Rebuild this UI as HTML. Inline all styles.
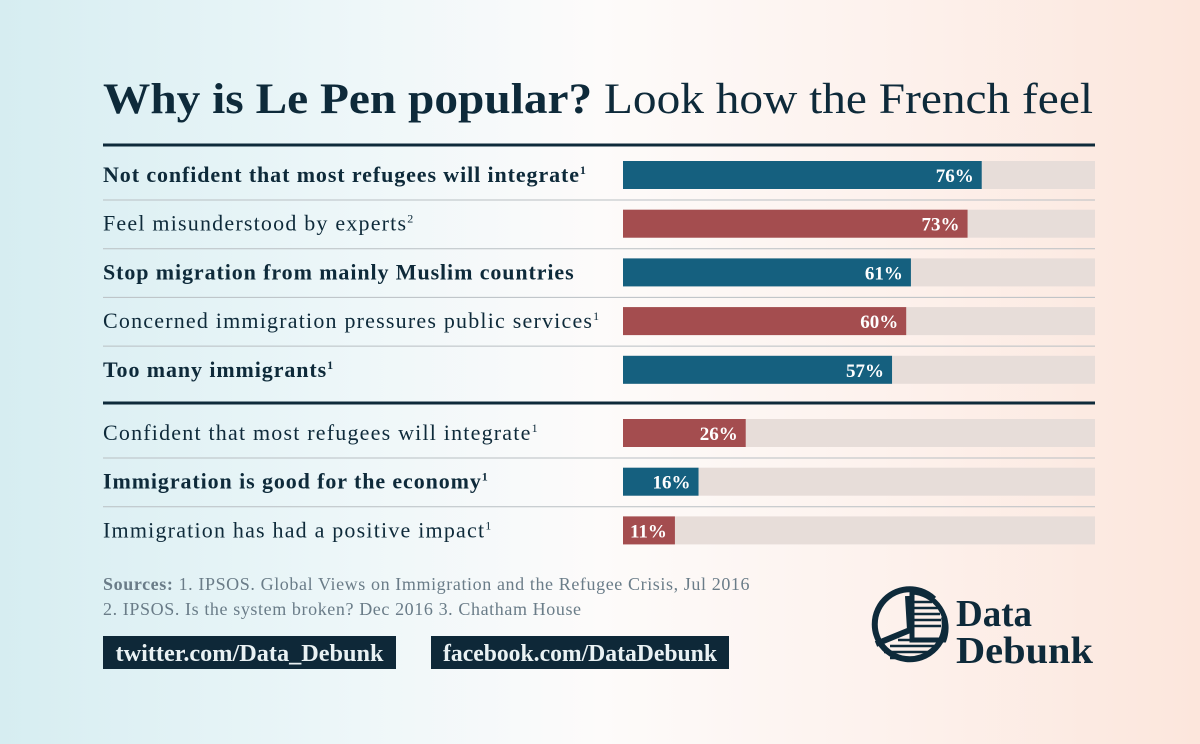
<!DOCTYPE html>
<html><head><meta charset="utf-8"><style>
html,body{margin:0;padding:0}
body{width:1200px;height:744px;overflow:hidden;background:linear-gradient(90deg,#d6edf1 0%,#eef7f9 30%,#fdfbfa 50%,#fdf1ec 75%,#fce6dc 100%);font-family:"Liberation Serif",serif}
svg{position:absolute;left:0;top:0}
</style></head><body>
<svg id="chart" width="1200" height="744">
<text x="103" y="113" font-size="43" fill="#0e2a3a" textLength="990" lengthAdjust="spacingAndGlyphs"><tspan font-weight="bold">Why is Le Pen popular?</tspan> Look how the French feel</text>
<line x1="103" x2="1095" y1="145" y2="145" stroke="#0e2a3a" stroke-width="3"/>
<line x1="103" x2="1095" y1="403" y2="403" stroke="#0e2a3a" stroke-width="3"/>
<g id="rows"></g>
<text x="103" y="590" font-size="18" letter-spacing="0.6" fill="#6a7c88"><tspan font-weight="bold">Sources:</tspan> 1. IPSOS. Global Views on Immigration and the Refugee Crisis, Jul 2016</text>
<text x="103" y="615" font-size="18" letter-spacing="0.6" fill="#6a7c88">2. IPSOS. Is the system broken? Dec 2016 3. Chatham House</text>
<g>
<rect x="103" y="636" width="293" height="33" fill="#0e2838"/>
<text x="249.5" y="661" font-size="24" font-weight="bold" fill="#e9f1f3" text-anchor="middle" textLength="268" lengthAdjust="spacingAndGlyphs">twitter.com/Data_Debunk</text></g>
<g>
<rect x="431" y="636" width="298" height="33" fill="#0e2838"/>
<text x="580" y="661" font-size="24" font-weight="bold" fill="#e9f1f3" text-anchor="middle" textLength="274" lengthAdjust="spacingAndGlyphs">facebook.com/DataDebunk</text></g>
<g fill="none" stroke="#0e2a3a" stroke-width="6">
<path d="M934 599 A35 35 0 1 0 944 617"/>
<path d="M908 596 L910 630 L876 644"/>
<path d="M912 592 A36 36 0 0 1 944 640 L 912 640 Z" stroke-width="5"/>
<g stroke-width="2.5"><line x1="914" x2="932" y1="602" y2="602"/><line x1="914" x2="938" y1="608" y2="608"/><line x1="914" x2="940" y1="614" y2="614"/><line x1="914" x2="941" y1="620" y2="620"/><line x1="914" x2="941" y1="626" y2="626"/><line x1="898" x2="938" y1="640" y2="640"/><line x1="890" x2="934" y1="646" y2="646"/><line x1="884" x2="928" y1="652" y2="652"/><line x1="890" x2="918" y1="658" y2="658"/></g>
</g>
<text x="956" y="626" font-size="38" font-weight="bold" fill="#0e2a3a" textLength="76" lengthAdjust="spacingAndGlyphs">Data</text>
<text x="956" y="663" font-size="38" font-weight="bold" fill="#0e2a3a" textLength="137" lengthAdjust="spacingAndGlyphs">Debunk</text>
</svg>
<script>
const labels=["Not confident that most refugees will integrate","Feel misunderstood by experts","Stop migration from mainly Muslim countries","Concerned immigration pressures public services","Too many immigrants","Confident that most refugees will integrate","Immigration is good for the economy","Immigration has had a positive impact"];
const sups=["1","2","","1","1","1","1","1"];
const values=[76,73,61,60,57,26,16,11];
const colors=["#15607f","#a44d4f","#15607f","#a44d4f","#15607f","#a44d4f","#15607f","#a44d4f"];
const NS="http://www.w3.org/2000/svg";
const g=document.getElementById('rows');
const x0=623,W=472;
function xs(v){return x0+v/100*W;}
function rowY(i){return i<5?175+i*48.7:433+(i-5)*48.7;}
function mk(t,a){const e=document.createElementNS(NS,t);for(const k in a)e.setAttribute(k,a[k]);return e;}
values.forEach((v,i)=>{
 const cy=rowY(i);
 const bold=i%2===0;
 const lab=mk('text',{x:103,y:cy+7,'font-size':22,fill:'#0e2a3a','font-weight':bold?'bold':'normal','letter-spacing':bold?0.9:1.2});
 
 
 lab.textContent=labels[i];
 if(sups[i]){const s=mk('tspan',{'font-size':12,dy:-8});s.textContent=sups[i];lab.appendChild(s);}
 g.appendChild(lab);
 const tr=mk('rect',{x:x0,y:cy-14,width:W,height:28,fill:'#e7ddd9'});
 
 
 g.appendChild(tr);
 const b=mk('rect',{x:x0,y:cy-14,width:xs(v)-x0,height:28,fill:colors[i]});
 
 
 g.appendChild(b);
 const t=mk('text',{x:xs(v)-8,y:cy+7,'font-size':19,'font-weight':'bold',fill:'#fff','text-anchor':'end'});
 
 
 t.textContent=v+'%';
 g.appendChild(t);
 if(i!==4&&i!==7){
  const l=mk('line',{x1:103,x2:1095,y1:cy+25,y2:cy+25,stroke:'#b9bfc3','stroke-width':1});
  
  
  g.appendChild(l);
 }
});
</script>
</body></html>
